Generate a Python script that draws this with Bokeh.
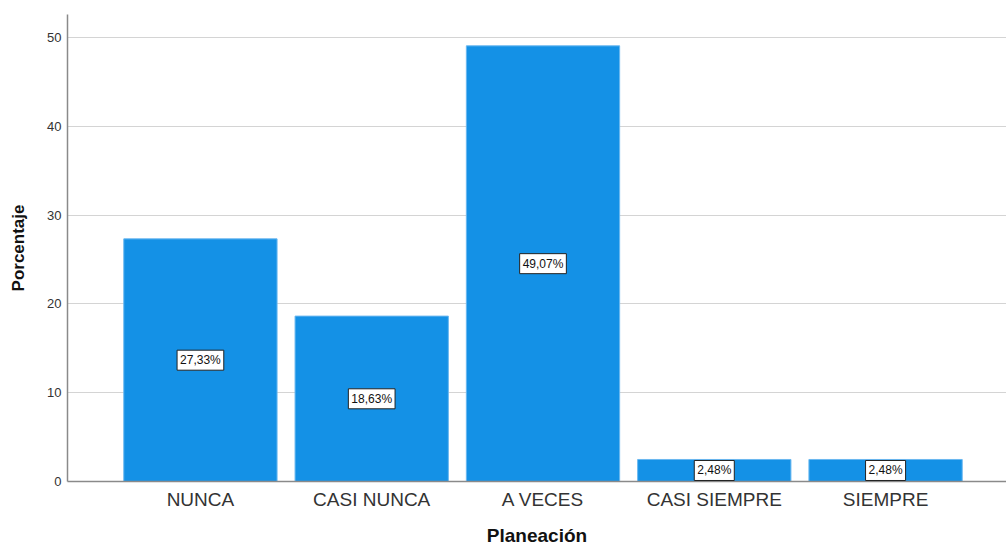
from bokeh.plotting import figure
from bokeh.models import ColumnDataSource, Label, Range1d, FixedTicker
from bokeh.embed import file_html
from bokeh.resources import INLINE

categories = ["NUNCA", "CASI NUNCA", "A VECES", "CASI SIEMPRE", "SIEMPRE"]
values = [27.33, 18.63, 49.07, 2.48, 2.48]
y_ticks = [0, 10, 20, 30, 40, 50]

xs = list(range(len(categories)))
labels = [f"{v:.2f}".replace(".", ",") + "%" for v in values]
src = ColumnDataSource(dict(x=xs, top=values))

p = figure(width=1006, height=548, output_backend="svg", toolbar_location=None,
           x_range=Range1d(-0.776, 4.706), y_range=Range1d(0, 52.6),
           min_border_left=67, min_border_right=0, min_border_top=14, min_border_bottom=67)
p.outline_line_color = None
p.background_fill_color = "white"

p.vbar(x="x", top="top", width=0.895, source=src, fill_color="#1491e6",
       line_color="#6ab8f0", line_width=1)

for x, v, t in zip(xs, values, labels):
    p.add_layout(Label(x=x, y=v / 2, text=t, text_align="center",
                       text_baseline="middle", text_font_size="12px", text_color="#111111",
                       text_font="Liberation Sans",
                       background_fill_color="white", border_line_color="#222222",
                       border_line_width=1, padding=3))

p.xgrid.grid_line_color = None
p.ygrid.grid_line_color = "#d4d4d4"
p.ygrid.grid_line_width = 1

p.yaxis.ticker = FixedTicker(ticks=y_ticks)
p.xaxis.ticker = FixedTicker(ticks=xs)
p.xaxis.major_label_overrides = {i: c for i, c in enumerate(categories)}

for ax in (p.xaxis, p.yaxis):
    ax.axis_line_color = "#8a8a8a"
    ax.axis_line_width = 1.5
    ax.major_tick_line_color = None
    ax.minor_tick_line_color = None
    ax.major_tick_out = 0
    ax.minor_tick_out = 0
    ax.major_tick_in = 0
    ax.major_label_text_font = "Liberation Sans"
    ax.axis_label_text_font = "Liberation Sans"
    ax.axis_label_text_font_style = "bold"
    ax.axis_label_text_color = "#111111"

p.yaxis.major_label_text_font_size = "13px"
p.yaxis.major_label_text_color = "#333333"
p.yaxis.major_label_standoff = 6
p.yaxis.axis_label = "Porcentaje"
p.yaxis.axis_label_text_font_size = "17px"
p.yaxis.axis_label_standoff = 16

p.xaxis.major_label_text_font_size = "19px"
p.xaxis.major_label_text_color = "#333333"
p.xaxis.major_label_standoff = 7
p.xaxis.axis_label = "Planeación"
p.xaxis.axis_label_text_font_size = "19px"
p.xaxis.axis_label_standoff = 12

open("out.html", "w").write(file_html(p, INLINE))
